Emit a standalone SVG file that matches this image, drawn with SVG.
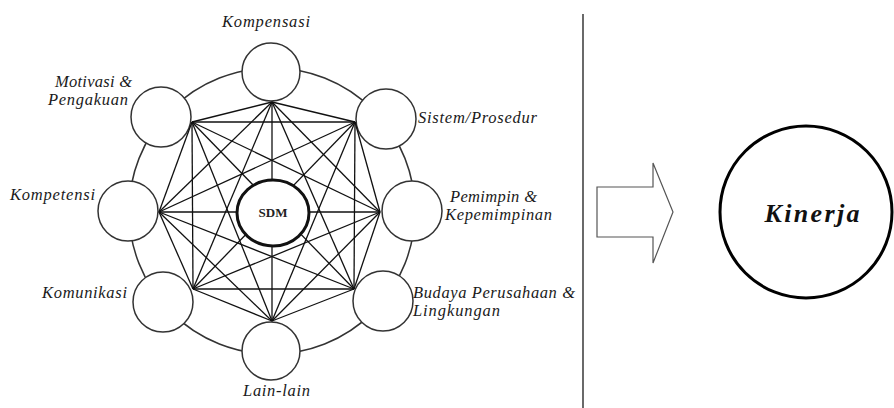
<svg xmlns="http://www.w3.org/2000/svg" width="894" height="408" viewBox="0 0 894 408">
<style>
.lbl{font-family:"Liberation Serif","Times New Roman",serif;font-style:italic;font-size:16.5px;fill:#1a1a1a}
.node{fill:#fff;stroke:#333;stroke-width:1.5}
.ring{fill:none;stroke:#333;stroke-width:1.5}
.cn line{stroke:#111;stroke-width:1.3}
</style>
<rect width="894" height="408" fill="#fff"/>
<circle class="ring" cx="272" cy="211" r="143"/>
<g id="kompensasi"><circle class="node" cx="271" cy="72" r="29"/><text class="lbl" x="222" y="27" textLength="88" lengthAdjust="spacing">Kompensasi</text></g>
<g id="sistem"><circle class="node" cx="386" cy="119" r="30"/><text class="lbl" x="418" y="123" textLength="119" lengthAdjust="spacing">Sistem/Prosedur</text></g>
<g id="pemimpin"><circle class="node" cx="412" cy="211" r="30"/><text class="lbl" x="450" y="202" textLength="87" lengthAdjust="spacing">Pemimpin &amp;</text><text class="lbl" x="445" y="220" textLength="107" lengthAdjust="spacing">Kepemimpinan</text></g>
<g id="budaya"><circle class="node" cx="383" cy="301" r="30"/><text class="lbl" x="413" y="298" textLength="162" lengthAdjust="spacing">Budaya Perusahaan &amp;</text><text class="lbl" x="413" y="316" textLength="87" lengthAdjust="spacing">Lingkungan</text></g>
<g id="lainlain"><circle class="node" cx="271" cy="351" r="29"/><text class="lbl" x="243" y="396" textLength="67" lengthAdjust="spacing">Lain-lain</text></g>
<g id="komunikasi"><circle class="node" cx="163" cy="302" r="30"/><text class="lbl" x="42" y="298" textLength="85" lengthAdjust="spacing">Komunikasi</text></g>
<g id="kompetensi"><circle class="node" cx="128" cy="211" r="30"/><text class="lbl" x="10" y="200" textLength="85" lengthAdjust="spacing">Kompetensi</text></g>
<g id="motivasi"><circle class="node" cx="161" cy="117" r="30"/><text class="lbl" x="55" y="87" textLength="77" lengthAdjust="spacing">Motivasi &amp;</text><text class="lbl" x="48" y="105" textLength="80" lengthAdjust="spacing">Pengakuan</text></g>
<g id="connectors" class="cn">
<line x1="272" y1="102" x2="355" y2="122"/>
<line x1="272" y1="102" x2="380" y2="212"/>
<line x1="272" y1="102" x2="354" y2="289"/>
<line x1="272" y1="102" x2="272" y2="321"/>
<line x1="272" y1="102" x2="193" y2="289"/>
<line x1="272" y1="102" x2="159" y2="212"/>
<line x1="272" y1="102" x2="192" y2="122"/>
<line x1="355" y1="122" x2="380" y2="212"/>
<line x1="355" y1="122" x2="354" y2="289"/>
<line x1="355" y1="122" x2="272" y2="321"/>
<line x1="355" y1="122" x2="193" y2="289"/>
<line x1="355" y1="122" x2="159" y2="212"/>
<line x1="355" y1="122" x2="192" y2="122"/>
<line x1="380" y1="212" x2="354" y2="289"/>
<line x1="380" y1="212" x2="272" y2="321"/>
<line x1="380" y1="212" x2="193" y2="289"/>
<line x1="380" y1="212" x2="159" y2="212"/>
<line x1="380" y1="212" x2="192" y2="122"/>
<line x1="354" y1="289" x2="272" y2="321"/>
<line x1="354" y1="289" x2="193" y2="289"/>
<line x1="354" y1="289" x2="159" y2="212"/>
<line x1="354" y1="289" x2="192" y2="122"/>
<line x1="272" y1="321" x2="193" y2="289"/>
<line x1="272" y1="321" x2="159" y2="212"/>
<line x1="272" y1="321" x2="192" y2="122"/>
<line x1="193" y1="289" x2="159" y2="212"/>
<line x1="193" y1="289" x2="192" y2="122"/>
<line x1="159" y1="212" x2="192" y2="122"/>
</g>
<g id="sdm"><ellipse cx="273" cy="213" rx="36" ry="33" fill="#fff" stroke="#111" stroke-width="3"/><text x="273" y="217" text-anchor="middle" font-family="Liberation Serif, Times New Roman, serif" font-weight="bold" font-size="13" fill="#222">SDM</text></g>
<line id="divider" x1="583" y1="14" x2="583" y2="408" stroke="#444" stroke-width="1.6"/>
<g id="arrow"><polygon points="597,187 653,187 653,163 673,212 653,263 653,237 597,237" fill="#fff" stroke="#555" stroke-width="1.2"/></g>
<g id="kinerja"><circle cx="806" cy="212" r="86" fill="#fff" stroke="#000" stroke-width="3"/><text x="812" y="222" text-anchor="middle" font-family="Liberation Serif, Times New Roman, serif" font-weight="bold" font-style="italic" font-size="26" textLength="95" lengthAdjust="spacing" fill="#111">Kinerja</text></g>
</svg>
